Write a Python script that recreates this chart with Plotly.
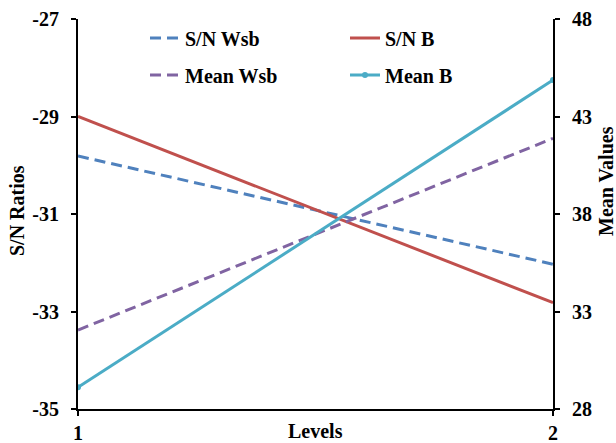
import plotly.graph_objects as go

# Factor levels on the x axis
levels = [1, 2]

# S/N ratios (left axis)
sn_wsb = [-29.81, -32.03]
sn_b = [-29.00, -32.82]

# Mean values (right axis)
mean_wsb = [32.05, 41.88]
mean_b = [29.11, 44.87]

y_left_ticks = [-27, -29, -31, -33, -35]
y_right_ticks = [48, 43, 38, 33, 28]

BLUE = "#4F81BD"
RED = "#C0504D"
PURPLE = "#8064A2"
CYAN = "#4BACC6"
FONT = "Liberation Serif"

fig = go.Figure()
fig.add_trace(go.Scatter(x=levels, y=sn_wsb, name="S/N Wsb", mode="lines",
                         line=dict(color=BLUE, width=3, dash="11px,6px"),
                         legend="legend"))
fig.add_trace(go.Scatter(x=levels, y=sn_b, name="S/N B", mode="lines",
                         line=dict(color=RED, width=3), legend="legend"))
fig.add_trace(go.Scatter(x=levels, y=mean_wsb, name="Mean Wsb", mode="lines",
                         line=dict(color=PURPLE, width=3, dash="11px,6px"),
                         yaxis="y2", legend="legend2"))
fig.add_trace(go.Scatter(x=levels, y=mean_b, name="Mean B", mode="lines+markers",
                         line=dict(color=CYAN, width=3),
                         marker=dict(color=CYAN, size=6),
                         yaxis="y2", legend="legend2"))

axis_font = dict(family=FONT, size=20, color="black", weight="bold")
title_font = dict(family=FONT, size=20, color="black", weight="bold")
legend_common = dict(orientation="h", xanchor="left", yanchor="middle",
                     entrywidth=155, entrywidthmode="pixels",
                     bgcolor="rgba(0,0,0,0)", itemwidth=30,
                     font=dict(family=FONT, size=20, color="black", weight="bold"))

common_axis = dict(showgrid=False, zeroline=False, showline=True,
                   linecolor="black", linewidth=2, ticks="outside", ticklen=5,
                   tickwidth=2, tickcolor="black", tickfont=axis_font,
                   automargin=False)

fig.update_layout(
    template="none",
    width=616, height=443,
    margin=dict(l=78, r=63, t=19, b=34, autoexpand=False),
    paper_bgcolor="white", plot_bgcolor="white",
    font=dict(family=FONT, color="black"),
    showlegend=True,
    legend=dict(x=(145 - 78) / 475, y=1 - (38 - 19) / 390, **legend_common),
    legend2=dict(x=(145 - 78) / 475, y=1 - (75 - 19) / 390, **legend_common),
    xaxis=dict(range=[1, 2], tickvals=levels,
               ticktext=[str(v) for v in levels], ticklabelstandoff=0,
               **common_axis),
    yaxis=dict(range=[-35, -27], tickvals=y_left_ticks,
               ticktext=[str(v) for v in y_left_ticks], ticklabelstandoff=8,
               **common_axis),
    yaxis2=dict(range=[28, 48], tickvals=y_right_ticks,
                ticktext=[str(v) for v in y_right_ticks], ticklabelstandoff=8,
                overlaying="y", side="right", **common_axis),
    annotations=[
        dict(text="Levels", x=0.5, y=(409 - 431) / 390, xref="paper", yref="paper",
             xanchor="center", yanchor="middle", showarrow=False, font=title_font),
        dict(text="S/N Ratios", x=(17 - 78) / 475, y=1 - (211 - 19) / 390,
             xref="paper", yref="paper", textangle=-90,
             xanchor="center", yanchor="middle", showarrow=False, font=title_font),
        dict(text="Mean Values", x=1 + (606 - 553) / 475, y=1 - (181 - 19) / 390,
             xref="paper", yref="paper", textangle=-90,
             xanchor="center", yanchor="middle", showarrow=False, font=title_font),
    ],
)

fig.write_html("out.html")
